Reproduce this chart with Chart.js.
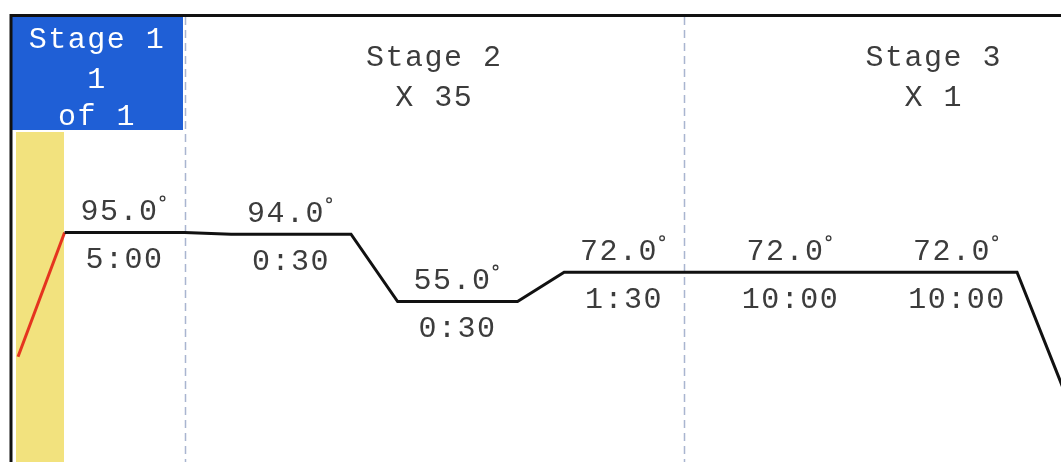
<!DOCTYPE html>
<html>
<head>
<meta charset="utf-8">
<script src="https://cdn.jsdelivr.net/npm/chart.js@4.4.1/dist/chart.umd.min.js"></script>
<style>
html, body { margin: 0; padding: 0; background: #fff; }
#wrap { width: 1061px; height: 462px; }
</style>
</head>
<body>
<div id="wrap"><canvas id="profile"></canvas></div>
<script>
// thermal profile: one slot per step, ramp then hold
const stepTemps = [95.0, 94.0, 55.0, 72.0, 72.0, 72.0, 4.0];
const holdTimes = ['5:00', '0:30', '0:30', '1:30', '10:00', '10:00', '∞'];
const startTemp = 23;

const stageNames = ['Stage 1', 'Stage 2', 'Stage 3'];
const stageRepeats = [['1', 'of 1'], ['X 35'], ['X 1']];
const stageFirstStep = [0, 1, 4];
const stageEndStep = [1, 4, 7];

const RAMP = 0.28;
const FONT = '"Liberation Mono", "DejaVu Sans Mono", monospace';
const SIZE = 30;
const INK = '#3c3c3c';

const points = [{ x: 0, y: startTemp }];
stepTemps.forEach((t, i) => {
    points.push({ x: i + RAMP, y: t });
    points.push({ x: i + 1, y: t });
});

function label(ctx, text, x, y, color) {
    ctx.font = SIZE + 'px ' + FONT;
    ctx.letterSpacing = '1.5px';
    ctx.fillStyle = color;
    ctx.textAlign = 'center';
    ctx.textBaseline = 'middle';
    ctx.fillText(text, x, y);
}

const screenDecor = {
    id: 'screenDecor',
    beforeDatasetsDraw(chart) {
        const ctx = chart.ctx;
        const xs = chart.scales.x;
        const bottom = chart.height;
        ctx.save();

        // current-step highlight strip
        ctx.fillStyle = '#f2e27e';
        ctx.fillRect(16, 132, 48, bottom - 132);

        // active stage header
        ctx.fillStyle = '#1f5fd6';
        ctx.fillRect(12, 17, 171, 113);

        // stage separators
        ctx.strokeStyle = '#a9b5d0';
        ctx.lineWidth = 1.5;
        ctx.setLineDash([8, 5]);
        stageFirstStep.slice(1).forEach(s => {
            const px = Math.round(xs.getPixelForValue(s)) + 0.5;
            ctx.beginPath();
            ctx.moveTo(px, 17);
            ctx.lineTo(px, bottom);
            ctx.stroke();
        });
        ctx.setLineDash([]);

        // frame
        ctx.strokeStyle = '#111';
        ctx.lineWidth = 3;
        ctx.beginPath();
        ctx.moveTo(11, bottom);
        ctx.lineTo(11, 15.5);
        ctx.lineTo(chart.width, 15.5);
        ctx.stroke();

        // stage titles
        stageNames.forEach((name, i) => {
            const cx = xs.getPixelForValue((stageFirstStep[i] + stageEndStep[i]) / 2);
            if (i === 0) {
                label(ctx, name, 97, 40, '#fff');
                label(ctx, stageRepeats[i][0], 97, 80, '#fff');
                label(ctx, stageRepeats[i][1], 97, 117, '#fff');
            } else {
                label(ctx, name, cx, 58, INK);
                label(ctx, stageRepeats[i][0], cx, 98, INK);
            }
        });
        ctx.restore();
    },
    afterDatasetsDraw(chart) {
        const ctx = chart.ctx;
        const xs = chart.scales.x;
        const ys = chart.scales.y;
        ctx.save();
        stepTemps.forEach((t, i) => {
            const cx = xs.getPixelForValue(i + (1 + RAMP) / 2);
            const py = ys.getPixelForValue(t);
            const txt = t.toFixed(1);

            ctx.font = SIZE + 'px ' + FONT;
            ctx.letterSpacing = '1.5px';
            const w = ctx.measureText(txt).width;
            const left = cx - (w + 10) / 2;

            label(ctx, txt, left + w / 2, py - 20, INK);
            // degree mark
            ctx.strokeStyle = INK;
            ctx.lineWidth = 1.3;
            ctx.beginPath();
            ctx.arc(left + w + 4, py - 34, 2.3, 0, Math.PI * 2);
            ctx.stroke();

            label(ctx, holdTimes[i], cx, py + 28, INK);
        });
        ctx.restore();
    }
};

new Chart(document.getElementById('profile'), {
    type: 'line',
    data: {
        datasets: [{
            data: points,
            borderColor: '#111',
            borderWidth: 3,
            pointRadius: 0,
            tension: 0,
            segment: {
                borderColor: c => c.p0DataIndex === 0 ? '#e5341f' : '#111'
            }
        }]
    },
    options: {
        responsive: true,
        maintainAspectRatio: false,
        animation: false,
        layout: { padding: { left: 12, top: 17, right: 0, bottom: 0 } },
        plugins: { legend: { display: false }, tooltip: { enabled: false } },
        scales: {
            x: { type: 'linear', min: -0.036, max: 6.264, display: false },
            y: { min: -38.0, max: 219.9, display: false }
        }
    },
    plugins: [screenDecor]
});
</script>
</body>
</html>
